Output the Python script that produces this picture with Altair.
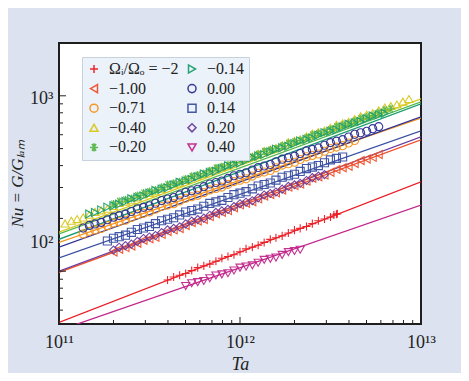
import altair as alt
import pandas as pd

FONT = "Liberation Serif"

series_names = ["Ωᵢ/Ωₒ = −2", "−1.00", "−0.71", "−0.40", "−0.20",
                "−0.14", "0.00", "0.14", "0.20", "0.40"]
series_colors = ["#ec1c24", "#f0502c", "#f7941d", "#d8c81c", "#55b848",
                 "#1c9e70", "#2e3192", "#3a4fa2", "#6b3d9e", "#c2288c"]
PLUS = "M-1,0L1,0M0,-1L0,1"
STAR = "M-1,0L1,0M-0.5,-0.87L0.5,0.87M-0.5,0.87L0.5,-0.87M0,-1L0,1"
series_shapes = [PLUS, "triangle-left", "circle", "triangle-up", STAR,
                 "triangle-right", "circle", "square", "diamond", "triangle-down"]

# ---- measured points ----
ta_m200 = [3.98e11, 4.30e11, 4.64e11, 5.01e11, 5.41e11, 5.84e11, 6.31e11, 6.81e11, 7.36e11, 7.94e11,
           8.58e11, 9.26e11, 1.00e12, 1.08e12, 1.17e12, 1.26e12, 1.36e12, 1.47e12, 1.58e12, 1.71e12,
           1.85e12, 2.00e12, 2.15e12, 2.33e12, 2.51e12, 2.71e12, 2.93e12, 3.16e12, 3.30e12, 3.41e12, 3.45e12]
nu_m200 = [89.1, 92.6, 94.8, 97.0, 100.8, 104.8, 107.2, 109.8, 114.0, 118.5,
           121.3, 124.2, 129.0, 134.1, 137.2, 140.6, 145.9, 151.8, 155.2, 159.0,
           165.0, 171.5, 175.5, 180.0, 186.7, 193.8, 198.6, 203.5, 209.0, 211.2, 212.5]

ta_m100 = [2.00e11, 2.15e11, 2.33e11, 2.51e11, 2.71e11, 2.93e11, 3.16e11, 3.41e11, 3.69e11, 3.98e11,
           4.30e11, 4.64e11, 5.01e11, 5.41e11, 5.84e11, 6.31e11, 6.81e11, 7.36e11, 7.94e11, 8.58e11,
           9.26e11, 1.00e12, 1.08e12, 1.17e12, 1.26e12, 1.36e12, 1.47e12, 1.58e12, 1.71e12, 1.85e12,
           2.00e12, 2.15e12, 2.33e12, 2.51e12, 2.71e12, 2.93e12, 3.16e12, 3.41e12, 3.69e12, 3.98e12,
           4.30e12, 4.64e12, 5.01e12, 5.41e12, 5.84e12]
nu_m100 = [128.6, 133.5, 136.3, 139.1, 144.5, 150.2, 153.1, 156.0, 162.2, 168.6,
           172.0, 175.4, 182.4, 189.5, 193.3, 197.0, 204.8, 212.8, 217.1, 221.5,
           230.2, 239.0, 243.9, 249.0, 258.5, 268.5, 274.0, 279.8, 290.5, 301.6,
           307.7, 314.5, 326.2, 339.0, 345.9, 353.0, 366.6, 380.6, 388.6, 396.8,
           411.7, 427.5, 436.6, 445.8, 462.8]

ta_m071 = [1.36e11, 1.47e11, 1.58e11, 1.71e11, 1.85e11,
           2.00e11, 2.15e11, 2.33e11, 2.51e11, 2.71e11, 2.93e11, 3.16e11, 3.41e11, 3.69e11, 3.98e11,
           4.30e11, 4.64e11, 5.01e11, 5.41e11, 5.84e11, 6.31e11, 6.81e11, 7.36e11, 7.94e11, 8.58e11,
           9.26e11, 1.00e12, 1.08e12, 1.17e12, 1.26e12, 1.36e12, 1.47e12, 1.58e12, 1.71e12, 1.85e12,
           2.00e12, 2.15e12, 2.33e12, 2.51e12, 2.71e12, 2.93e12, 3.16e12, 3.41e12, 3.69e12, 3.98e12,
           4.30e12]
nu_m071 = [162.9, 168.8, 171.9, 175.2, 181.5, 188.2, 191.7, 195.3, 202.4, 209.8,
           213.7, 217.7, 225.6, 233.9, 238.2, 242.7, 251.5, 260.7, 265.6, 270.6,
           280.4, 290.7, 296.1, 301.6, 312.6, 324.1, 330.1, 336.3, 348.5, 361.3,
           367.9, 374.9, 388.5, 402.8, 410.2, 417.9, 433.1, 449.0, 457.3, 465.9,
           482.8, 500.6, 509.8, 519.4, 538.3, 556.0]

ta_m040 = [1.08e11, 1.17e11, 1.26e11, 1.36e11, 1.47e11, 1.58e11, 1.71e11, 1.85e11,
           2.00e11, 2.15e11, 2.33e11, 2.51e11, 2.71e11, 2.93e11, 3.16e11, 3.41e11, 3.69e11, 3.98e11,
           4.30e11, 4.64e11, 5.01e11, 5.41e11, 5.84e11, 6.31e11, 6.81e11, 7.36e11, 7.94e11, 8.58e11,
           9.26e11, 1.00e12, 1.08e12, 1.17e12, 1.26e12, 1.36e12, 1.47e12, 1.58e12, 1.71e12, 1.85e12,
           2.00e12, 2.15e12, 2.33e12, 2.51e12, 2.71e12, 2.93e12, 3.16e12, 3.41e12, 3.69e12, 3.98e12,
           4.30e12, 4.64e12, 5.01e12, 5.41e12, 5.84e12, 6.31e12, 6.81e12, 7.36e12, 7.94e12, 8.58e12]
nu_m040 = [187.2, 194.0, 198.2, 202.5, 209.9, 218.0, 222.2, 226.9, 235.3, 244.6,
           249.1, 254.0, 263.7, 274.0, 279.2, 285.0, 295.6, 307.1, 313.0, 319.4,
           331.4, 344.2, 350.8, 357.9, 371.5, 385.6, 393.3, 401.2, 416.4, 432.4,
           440.9, 449.7, 466.8, 484.6, 494.2, 504.0, 523.2, 543.1, 554.0, 565.0,
           586.6, 609.0, 621.0, 633.5, 657.5, 682.6, 696.2, 710.0, 737.1, 765.2,
           780.4, 796.0, 826.2, 857.6, 874.8, 892.3, 926.2, 958.0]

ta_m020 = [2.00e11, 2.15e11, 2.33e11, 2.51e11, 2.71e11, 2.93e11, 3.16e11, 3.41e11, 3.69e11, 3.98e11,
           4.30e11, 4.64e11, 5.01e11, 5.41e11, 5.84e11, 6.31e11, 6.81e11, 7.36e11, 7.94e11, 8.58e11,
           9.26e11, 1.00e12, 1.08e12, 1.17e12, 1.26e12, 1.36e12, 1.47e12, 1.58e12, 1.71e12, 1.85e12,
           2.00e12, 2.15e12, 2.33e12, 2.51e12, 2.71e12, 2.93e12, 3.16e12, 3.41e12, 3.69e12, 3.98e12,
           4.30e12, 4.64e12, 5.01e12, 5.41e12, 5.84e12, 6.31e12, 6.81e12]
nu_m020 = [241.8, 250.6, 255.3, 260.0, 269.6, 279.4, 284.6, 289.9, 300.5, 311.5,
           317.3, 323.2, 335.0, 347.2, 353.7, 360.4, 373.4, 387.1, 394.3, 401.6,
           416.4, 431.6, 439.6, 447.8, 464.2, 481.1, 490.1, 499.3, 517.5, 536.4,
           546.3, 556.6, 576.8, 597.9, 609.0, 620.4, 643.1, 666.6, 679.0, 691.7,
           716.9, 743.1, 756.9, 771.1, 799.2, 828.4, 843.9]

ta_m014 = [1.47e11, 1.58e11, 1.71e11, 1.85e11,
           2.00e11, 2.15e11, 2.33e11, 2.51e11, 2.71e11, 2.93e11, 3.16e11, 3.41e11, 3.69e11, 3.98e11,
           4.30e11, 4.64e11, 5.01e11, 5.41e11, 5.84e11, 6.31e11, 6.81e11, 7.36e11, 7.94e11, 8.58e11,
           9.26e11, 1.00e12, 1.08e12, 1.17e12, 1.26e12, 1.36e12, 1.47e12, 1.58e12, 1.71e12, 1.85e12,
           2.00e12, 2.15e12, 2.33e12, 2.51e12, 2.71e12, 2.93e12, 3.16e12, 3.41e12, 3.69e12, 3.98e12,
           4.30e12, 4.64e12, 5.01e12, 5.41e12, 5.84e12, 6.31e12]
nu_m014 = [211.9, 215.9, 223.7, 231.9, 236.2, 240.6, 249.4, 258.5, 263.3, 268.3,
           278.1, 288.2, 293.6, 299.0, 310.0, 321.3, 327.3, 333.4, 345.5, 358.1,
           364.9, 371.7, 385.2, 399.4, 406.8, 414.4, 429.5, 445.2, 453.5, 462.0,
           478.8, 496.3, 505.5, 515.0, 533.7, 553.2, 563.6, 574.1, 595.0, 616.8,
           628.2, 640.0, 663.3, 687.6, 700.4, 713.5, 739.5, 766.6, 780.9, 795.4]

ta_p000 = [1.36e11, 1.47e11, 1.58e11, 1.71e11, 1.85e11,
           2.00e11, 2.15e11, 2.33e11, 2.51e11, 2.71e11, 2.93e11, 3.16e11, 3.41e11, 3.69e11, 3.98e11,
           4.30e11, 4.64e11, 5.01e11, 5.41e11, 5.84e11, 6.31e11, 6.81e11, 7.36e11, 7.94e11, 8.58e11,
           9.26e11, 1.00e12, 1.08e12, 1.17e12, 1.26e12, 1.36e12, 1.47e12, 1.58e12, 1.71e12, 1.85e12,
           2.00e12, 2.15e12, 2.33e12, 2.51e12, 2.71e12, 2.93e12, 3.16e12, 3.41e12, 3.69e12, 3.98e12,
           4.30e12, 4.64e12, 5.01e12, 5.41e12, 5.84e12]
nu_p000 = [176.2, 182.4, 186.0, 189.8, 196.4, 203.3, 207.4, 211.5, 219.0, 226.7,
           231.2, 235.8, 244.1, 252.7, 257.7, 262.8, 272.1, 281.7, 287.3, 293.0,
           303.4, 314.1, 320.3, 326.7, 338.2, 350.1, 357.1, 364.2, 377.1, 390.3,
           398.1, 406.0, 420.3, 435.1, 443.8, 452.6, 468.6, 485.1, 494.8, 504.6,
           522.4, 540.8, 551.6, 562.5, 582.4, 602.9, 614.9, 627.1, 649.3, 667.1]

ta_p014 = [1.85e11,
           2.00e11, 2.15e11, 2.33e11, 2.51e11, 2.71e11, 2.93e11, 3.16e11, 3.41e11, 3.69e11, 3.98e11,
           4.30e11, 4.64e11, 5.01e11, 5.41e11, 5.84e11, 6.31e11, 6.81e11, 7.36e11, 7.94e11, 8.58e11,
           9.26e11, 1.00e12, 1.08e12, 1.17e12, 1.26e12, 1.36e12, 1.47e12, 1.58e12, 1.71e12, 1.85e12,
           2.00e12, 2.15e12, 2.33e12, 2.51e12, 2.71e12, 2.93e12, 3.16e12, 3.41e12, 3.69e12]
nu_p014 = [148.6, 154.2, 157.3, 160.5, 166.6, 172.9, 176.4, 180.0, 186.7, 193.9,
           197.7, 201.6, 209.3, 217.3, 221.6, 226.0, 234.7, 243.5, 248.4, 253.4,
           263.0, 273.1, 278.5, 284.1, 294.9, 306.1, 312.2, 318.4, 330.5, 343.1,
           350.0, 357.0, 370.5, 384.7, 392.3, 400.2, 415.4, 431.2, 439.8, 448.0]

ta_p020 = [2.00e11, 2.15e11, 2.33e11, 2.51e11, 2.71e11, 2.93e11, 3.16e11, 3.41e11, 3.69e11, 3.98e11,
           4.30e11, 4.64e11, 5.01e11, 5.41e11, 5.84e11, 6.31e11, 6.81e11, 7.36e11, 7.94e11, 8.58e11,
           9.26e11, 1.00e12, 1.08e12, 1.17e12, 1.26e12, 1.36e12, 1.47e12, 1.58e12, 1.71e12, 1.85e12,
           2.00e12, 2.15e12, 2.33e12, 2.51e12, 2.71e12, 2.93e12]
nu_p020 = [132.0, 137.0, 139.8, 142.6, 148.0, 153.7, 156.7, 159.8, 165.9, 172.2,
           175.6, 179.1, 186.0, 193.0, 196.9, 200.8, 208.4, 216.4, 220.7, 225.1,
           233.7, 242.6, 247.4, 252.3, 261.9, 271.9, 277.3, 282.9, 293.6, 304.8,
           310.9, 317.1, 329.1, 341.7, 348.5, 355.5]

ta_p040 = [5.01e11, 5.41e11, 5.84e11, 6.31e11, 6.81e11, 7.36e11, 7.94e11, 8.58e11, 9.26e11,
           1.00e12, 1.08e12, 1.17e12, 1.26e12, 1.36e12, 1.47e12, 1.58e12, 1.71e12, 1.85e12, 2.00e12, 2.15e12]
nu_p040 = [82.3, 85.4, 86.6, 88.0, 91.2, 94.6, 95.9, 97.4, 101.0, 104.8,
           106.3, 108.0, 111.8, 116.1, 117.7, 119.6, 123.9, 128.5, 130.4, 132.6]

point_ta = [ta_m200, ta_m100, ta_m071, ta_m040, ta_m020, ta_m014, ta_p000, ta_p014, ta_p020, ta_p040]
point_nu = [nu_m200, nu_m100, nu_m071, nu_m040, nu_m020, nu_m014, nu_p000, nu_p014, nu_p020, nu_p040]

# ---- power-law fit lines: Nu at Ta = 1e11 and at Ta = 1e13 ----
fit_ta = [1e11, 1e13]
fit_nu_left = [51.1, 98.6, 146.0, 167.0, 163.0, 152.0, 137.0, 119.0, 100.0, 46.0]
fit_nu_right = [323.0, 561.0, 746.0, 961.0, 924.0, 900.0, 759.0, 631.0, 583.0, 238.0]

# ---- axis ticks ----
x_major = [1e11, 1e12, 1e13]
x_minor = [2e11, 3e11, 4e11, 5e11, 6e11, 7e11, 8e11, 9e11,
           2e12, 3e12, 4e12, 5e12, 6e12, 7e12, 8e12, 9e12]
y_major = [100, 1000]
y_minor = [60, 70, 80, 90, 200, 300, 400, 500, 600, 700, 800, 900]

# ---- tables ----
rows = []
for i, (name, tas, nus) in enumerate(zip(series_names, point_ta, point_nu)):
    for t, n in zip(tas, nus):
        rows.append({"series": name, "Ta": t, "Nu": n, "ord": i})
pts = pd.DataFrame(rows)

frows = []
for name, a, b in zip(series_names, fit_nu_left, fit_nu_right):
    frows.append({"fit": name, "Ta": fit_ta[0], "Nu": a})
    frows.append({"fit": name, "Ta": fit_ta[1], "Nu": b})
fits = pd.DataFrame(frows)

W, H = 362, 281
xs = alt.Scale(type="log", domain=[1e11, 1e13], nice=False)
ys = alt.Scale(type="log", domain=[50, 2000], nice=False)

x_axis = alt.Axis(values=x_major, grid=False, ticks=False, tickSize=0, domain=False,
                  labelExpr="datum.value < 5e11 ? '10¹¹' : (datum.value < 5e12 ? '10¹²' : '10¹³')",
                  labelFont=FONT, labelFontSize=18, labelColor="#222", labelPadding=9,
                  labelFlush=False, labelOverlap=False,
                  title="Ta", titleFont=FONT, titleFontSize=18, titleFontStyle="italic",
                  titleFontWeight="normal", titleColor="#222", titlePadding=4)
y_axis = alt.Axis(values=y_major, grid=False, ticks=False, tickSize=0, domain=False,
                  labelExpr="datum.value < 500 ? '10²' : '10³'",
                  labelOffset={"condition": {"test": "datum.value < 500", "value": -29}, "value": 3},
                  labelFont=FONT, labelFontSize=18, labelColor="#222", labelPadding=6,
                  labelFlush=False, labelOverlap=False,
                  title="Nu = G/Gₗₐₘ", titleFont=FONT, titleFontSize=17, titleFontStyle="italic",
                  titleFontWeight="normal", titleColor="#222", titlePadding=3)

legend = alt.Legend(title=None, orient="none", legendX=23, legendY=14, columns=2,
                    gridAlign="each", fillColor="#ecf2fa", strokeColor="#c8d1de",
                    padding=4, rowPadding=3.6, columnPadding=5,
                    symbolSize=65, symbolStrokeWidth=1.5, symbolFillColor="transparent",
                    labelFont=FONT, labelFontSize=16, labelColor="#222", labelOffset=7)

X = alt.X("Ta:Q", scale=xs, axis=x_axis)
Y = alt.Y("Nu:Q", scale=ys, axis=y_axis)

# the line scale lists the series in reverse so that its (hidden) legend stays apart
lines = alt.Chart(fits).mark_line(clip=True, strokeWidth=1.3).encode(
    x=X, y=Y,
    stroke=alt.Stroke("fit:N", scale=alt.Scale(domain=series_names[::-1], range=series_colors[::-1]),
                      legend=None),
)

points = alt.Chart(pts).mark_point(filled=False, size=65, strokeWidth=1.1, opacity=0.95, clip=True).encode(
    x=X, y=Y,
    color=alt.Color("series:N", scale=alt.Scale(domain=series_names, range=series_colors), legend=legend),
    shape=alt.Shape("series:N", scale=alt.Scale(domain=series_names, range=series_shapes), legend=legend),
    order=alt.Order("ord:Q"),
)

xt_major = alt.Chart(pd.DataFrame({"Ta": x_major})).mark_rule(color="#222", strokeWidth=1).encode(
    x=X, y=alt.value(H), y2=alt.value(H - 7))
xt_minor = alt.Chart(pd.DataFrame({"Ta": x_minor})).mark_rule(color="#222", strokeWidth=1).encode(
    x=X, y=alt.value(H), y2=alt.value(H - 4))
yt_major = alt.Chart(pd.DataFrame({"Nu": y_major})).mark_rule(color="#222", strokeWidth=1).encode(
    y=Y, x=alt.value(0), x2=alt.value(7))
yt_minor = alt.Chart(pd.DataFrame({"Nu": y_minor})).mark_rule(color="#222", strokeWidth=1).encode(
    y=Y, x=alt.value(0), x2=alt.value(4))

chart = alt.layer(lines, points, xt_major, xt_minor, yt_major, yt_minor).properties(
    width=W, height=H,
    autosize=alt.AutoSizeParams(type="none"),
    padding={"left": 51, "top": 35, "right": 40, "bottom": 49},
    background="#dce2ef",
).configure_view(fill="white", stroke="#1e1e1e", strokeWidth=2)

chart.save("out.html", embed_options={"renderer": "svg", "actions": False})
